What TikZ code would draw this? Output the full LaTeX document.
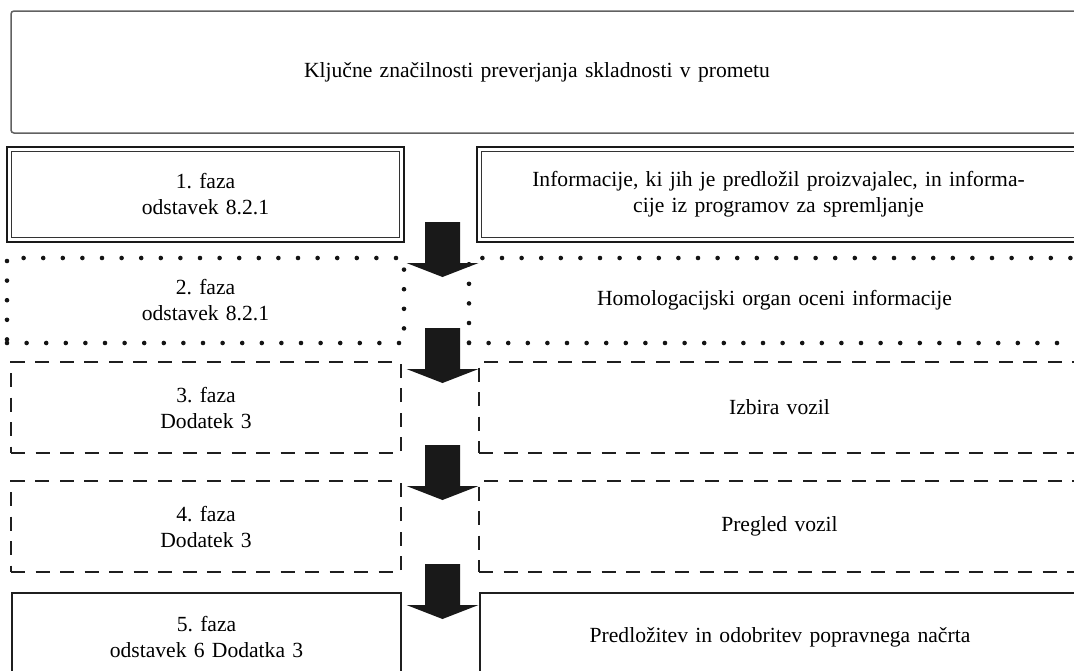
\documentclass[tikz,border=0pt]{standalone}
\usepackage{fontspec}
\setmainfont{Liberation Serif}[WordSpace=1.35]
\frenchspacing
\begin{document}
\begin{tikzpicture}[x=1pt,y=-1pt,
  every node/.style={font=\fontsize{21.6}{26}\selectfont, align=center, inner sep=0pt, outer sep=0pt},
  headbox/.style={draw=black!62, line width=1.5pt, rounded corners=3pt},
  doublebox/.style={draw=black!90, line width=2.8pt},
  dotbox/.style={draw=black!92, line width=4.6pt, line cap=round, dash pattern=on 0pt off 19.6pt},
  dashbox/.style={draw=black!88, line width=2.7pt, dash pattern=on 14pt off 10.5pt},
  plainbox/.style={draw=black!88, line width=2.1pt},
  pics/downarrow/.style={code={
    \fill[black!90] (-17.5,0) -- (17.5,0) -- (17.5,41) -- (36,41) -- (0,55) -- (-36,41) -- (-17.5,41) -- cycle;}}
]
\useasboundingbox (0,0) rectangle (1074,670);
\clip (0,0) rectangle (1074,670);

% heading box (runs past the right edge)
\node[headbox, minimum width=1080, minimum height=122] (head) at (551,72) {};
\node (headtext) at (537,72) {Ključne značilnosti preverjanja skladnosti v prometu};

% row 1: double frames
\node[doublebox, minimum width=397, minimum height=95] (f1) at (205.5,194.5) {1. faza\\odstavek 8.2.1};
\node[doublebox, minimum width=603, minimum height=95] (i1) at (778.5,194.5)
  {Informacije, ki jih je predložil proizvajalec, in informa-\\cije iz programov za spremljanje};
\draw[black!80, line width=1.2pt] ([shift={(4.8,4.8)}]f1.north west) rectangle ([shift={(-4.8,-4.8)}]f1.south east);
\draw[black!80, line width=1.2pt] ([shift={(4.8,4.8)}]i1.north west) rectangle ([shift={(-4.8,-4.8)}]i1.south east);

% row 2: dotted frames
\node[dotbox, minimum width=397, minimum height=85] (f2) at (205.5,300.5) {2. faza\\odstavek 8.2.1};
\node[dotbox, minimum width=611, minimum height=85] (i2) at (774.5,300.5) {Homologacijski organ oceni informacije};

% rows 3 and 4: dashed frames
\node[dashbox, minimum width=390, minimum height=91] (f3) at (206,407.5) {3. faza\\Dodatek 3};
\node[dashbox, minimum width=601, minimum height=91] (i3) at (779.5,407.5) {Izbira vozil};
\node[dashbox, minimum width=390, minimum height=91] (f4) at (206,526.5) {4. faza\\Dodatek 3};
\node[dashbox, minimum width=601, minimum height=91] (i4) at (779.5,526.5) {Pregled vozil};

% row 5: plain frames
\node[plainbox, minimum width=389, minimum height=88] (f5) at (206.5,637) {5. faza\\odstavek 6 Dodatka 3};
\node[plainbox, minimum width=600, minimum height=88] (i5) at (780,637) {Predložitev in odobritev popravnega načrta};

% block arrows between the phases
\pic at (442.5,222) {downarrow};
\pic at (442.5,328) {downarrow};
\pic at (442.5,445) {downarrow};
\pic at (442.5,564) {downarrow};
\end{tikzpicture}
\end{document}
